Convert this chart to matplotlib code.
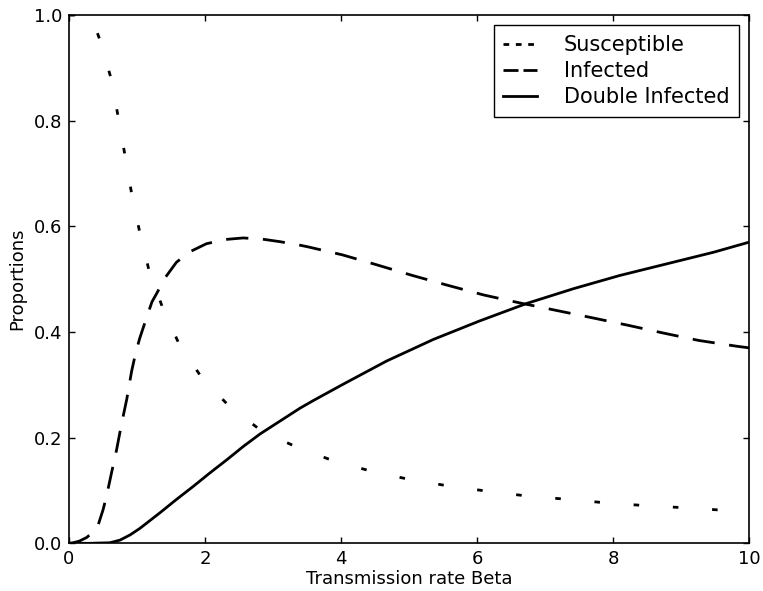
import matplotlib
matplotlib.use("Agg")
import matplotlib.pyplot as plt
from matplotlib.lines import Line2D

# values
beta_s = [0.0, 0.25, 0.35, 0.44, 0.61, 0.72, 0.82, 0.92, 1.04, 1.18, 1.38, 1.62, 1.95,
          2.36, 2.84, 3.35, 3.89, 4.46, 5.04, 5.61, 6.19, 6.77, 7.36, 7.94, 8.52,
          9.1, 9.69, 10.0]
susceptible = [1.0, 1.0, 0.99, 0.958, 0.884, 0.81, 0.737, 0.663, 0.589, 0.515, 0.445,
               0.377, 0.314, 0.259, 0.212, 0.182, 0.156, 0.136, 0.12, 0.108, 0.098,
               0.089, 0.083, 0.076, 0.071, 0.067, 0.062, 0.060]

beta_i = [0.0, 0.06, 0.15, 0.26, 0.35, 0.43, 0.5, 0.55, 0.63, 0.7, 0.77, 0.85, 0.92,
          0.98, 1.04, 1.12, 1.22, 1.29, 1.41, 1.58, 1.78, 2.02, 2.29, 2.56, 2.83,
          3.1, 3.37, 3.52, 4.02, 4.53, 5.05, 5.58, 6.1, 6.63, 7.16, 7.69, 8.21,
          8.74, 9.26, 9.82, 10.0]
infected = [0.0, 0.001, 0.004, 0.011, 0.021, 0.035, 0.063, 0.088, 0.136, 0.177, 0.224,
            0.273, 0.325, 0.36, 0.388, 0.419, 0.457, 0.473, 0.502, 0.532, 0.552,
            0.567, 0.575, 0.578, 0.576, 0.571, 0.565, 0.561, 0.546, 0.527, 0.507,
            0.488, 0.470, 0.455, 0.441, 0.427, 0.413, 0.398, 0.384, 0.373, 0.370]

beta_d = [0.0, 0.3, 0.6, 0.75, 0.9, 1.04, 1.19, 1.34, 1.58, 1.83, 2.07, 2.32, 2.56,
          2.81, 3.4, 3.59, 4.03, 4.67, 5.36, 6.04, 6.73, 7.42, 8.1, 8.79, 9.48, 10.0]
double_inf = [0.0, 0.0, 0.001, 0.006, 0.016, 0.028, 0.043, 0.058, 0.083, 0.108, 0.133,
              0.158, 0.183, 0.207, 0.256, 0.270, 0.301, 0.345, 0.386, 0.421, 0.454,
              0.482, 0.507, 0.529, 0.551, 0.570]

labels = ['Susceptible', 'Infected', 'Double Infected']

plt.rcParams['font.family'] = 'DejaVu Sans'
plt.rcParams['lines.scale_dashes'] = False
fig = plt.figure(figsize=(7.63, 5.91), dpi=100)
ax = fig.add_axes([0.0904, 0.0807, 0.8913, 0.8939])

ax.plot(beta_s, susceptible, color='k', lw=2, linestyle=(0, (4.0, 24.3)),
        dash_capstyle='butt')
ax.plot(beta_i, infected, color='k', lw=2, linestyle=(0, (16.0, 10.5)),
        dash_capstyle='butt', dash_joinstyle='round')
ax.plot(beta_d, double_inf, color='k', lw=2, linestyle='-')

ax.set_xlim(0, 10)
ax.set_ylim(0, 1.0)
ax.set_xticks([0, 2, 4, 6, 8, 10])
ax.set_yticks([0.0, 0.2, 0.4, 0.6, 0.8, 1.0])
ax.tick_params(direction='in', length=4.5, width=1, top=True, right=True,
               labelsize=13, pad=5)
for sp in ax.spines.values():
    sp.set_linewidth(1.2)

ax.set_xlabel('Transmission rate Beta', fontsize=13, labelpad=1)
ax.set_ylabel('Proportions', fontsize=13, labelpad=5)

handles = [Line2D([], [], color='k', lw=2, linestyle=(0, (4.1, 4.8)), dash_capstyle='butt'),
           Line2D([], [], color='k', lw=2, linestyle=(0, (10.8, 3.6)), dash_capstyle='butt'),
           Line2D([], [], color='k', lw=2, linestyle='-')]
leg = ax.legend(handles, labels, loc='upper right', fontsize=15, fancybox=False,
                framealpha=1, handlelength=1.6, borderaxespad=0.5, borderpad=0.45,
                labelspacing=0.3, handletextpad=1.3)
leg.get_frame().set_edgecolor('k')
leg.get_frame().set_linewidth(1.0)

fig.savefig('out.png', dpi=100)
